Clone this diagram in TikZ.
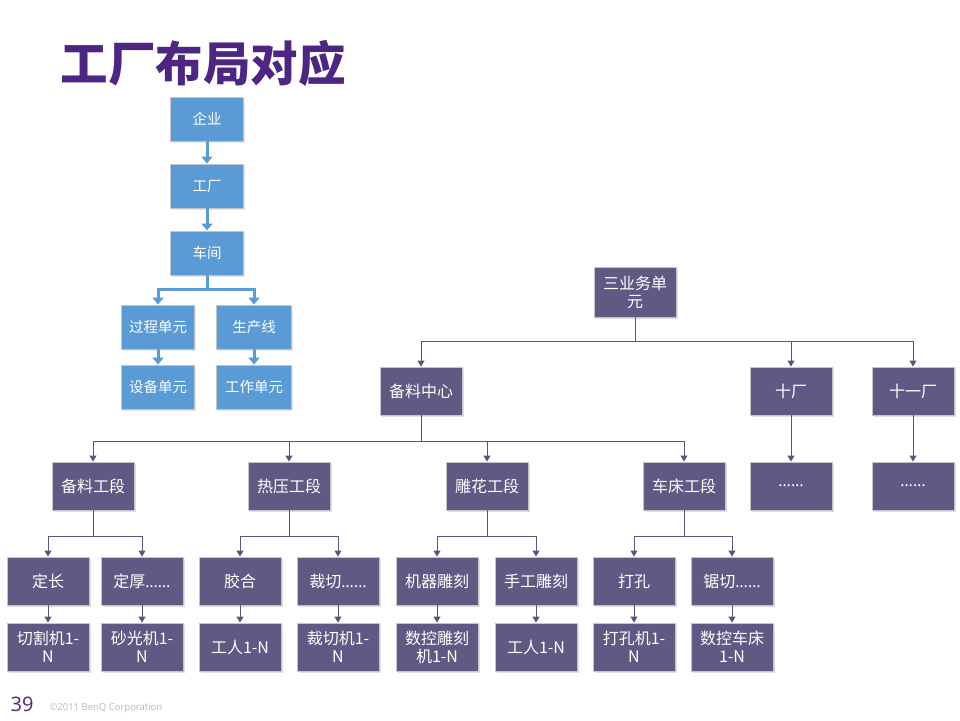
\documentclass[tikz,border=0pt]{standalone}
\usepackage{fontspec}
\setmainfont{Noto Sans CJK SC}
\newfontfamily\latinfont{Open Sans}
\usetikzlibrary{positioning, arrows.meta, shadows}

\definecolor{unitpurple}{RGB}{97,88,132}
\definecolor{linepurple}{RGB}{92,84,128}
\definecolor{unitblue}{RGB}{91,155,213}
\definecolor{titlepurple}{RGB}{76,38,130}
\definecolor{boxrim}{RGB}{196,196,206}

\begin{document}
\begin{tikzpicture}[
    x=1pt, y=-1pt,
    every node/.style={font=\fontsize{16}{18}\selectfont},
    pbox/.style={
        rectangle, fill=unitpurple, draw=boxrim, line width=0.9pt,
        minimum width=82pt, minimum height=48pt, inner sep=1pt,
        align=center, text=white,
        drop shadow={opacity=0.25, shadow xshift=1.5pt, shadow yshift=-1.5pt}
    },
    bbox/.style={
        rectangle, fill=unitblue, draw=boxrim, line width=0.9pt,
        minimum width=73pt, minimum height=44pt, inner sep=1pt,
        align=center, text=white, font=\fontsize{14.5}{17}\selectfont,
        drop shadow={opacity=0.2, shadow xshift=1.5pt, shadow yshift=-1.5pt}
    },
    parrow/.style={draw=linepurple, line width=1pt,
        -{Triangle[width=7pt,length=6pt]}},
    barrow/.style={draw=unitblue, line width=3pt,
        -{Triangle[width=11pt,length=7pt]}}
]
\useasboundingbox (0,0) rectangle (960,720);

%% ── Title ──────────────────────────────────────────────────────────
\node[text=titlepurple, font=\fontsize{47.5}{50}\selectfont\bfseries]
    (title) at (203,63) {工厂布局对应};

%% ── Blue tree (left) ───────────────────────────────────────────────
\node[bbox] (corp)  at (207,119) {企业};
\node[bbox] (plant) at (207,186) {工厂};
\node[bbox] (shop)  at (207,253) {车间};
\node[bbox] (proc)  at (158,327) {过程单元};
\node[bbox, minimum width=75pt] (line) at (254,327) {生产线};
\node[bbox] (equip) at (158,387) {设备单元};
\node[bbox, minimum width=75pt] (work) at (254,387) {工作单元};

\draw[barrow] (corp) -- (plant);
\draw[barrow] (plant) -- (shop);
\draw[barrow] (shop.south) -- ++(0,14) -| (proc.north);
\draw[barrow] (shop.south) -- ++(0,14) -| (line.north);
\draw[barrow] (proc) -- (equip);
\draw[barrow] (line) -- (work);

%% ── Purple tree (right) ────────────────────────────────────────────
\def\rowA{391}
\def\rowB{486}
\def\rowC{581}
\def\rowD{647}

\node[pbox, minimum height=50pt] (bu) at (635,292) {三业务单\\元};

\node[pbox] (prep) at (421,\rowA) {备料中心};
\node[pbox] (f10)  at (791,\rowA) {十厂};
\node[pbox] (f11)  at (913,\rowA) {十一厂};

\node[pbox] (e10) at (791,\rowB) {\latinfont ……};
\node[pbox] (e11) at (913,\rowB) {\latinfont ……};

\node[pbox] (prepsec)  at (93,\rowB)  {备料工段};
\node[pbox] (presssec) at (289,\rowB) {热压工段};
\node[pbox] (carvesec) at (487,\rowB) {雕花工段};
\node[pbox] (lathesec) at (684,\rowB) {车床工段};

%% third row
\node[pbox] (fixlen)  at (48,\rowC)  {定长};
\node[pbox] (fixthk)  at (142,\rowC) {定厚{\latinfont ……}};
\node[pbox] (glue)    at (240,\rowC) {胶合};
\node[pbox] (trim)    at (338,\rowC) {裁切{\latinfont ……}};
\node[pbox] (mcarve)  at (437,\rowC) {机器雕刻};
\node[pbox] (hcarve)  at (536,\rowC) {手工雕刻};
\node[pbox] (drill)   at (634,\rowC) {打孔};
\node[pbox] (saw)     at (732,\rowC) {锯切{\latinfont ……}};

%% fourth row
\node[pbox] (cutter)  at (48,\rowD)  {切割机1-\\N};
\node[pbox] (sander)  at (142,\rowD) {砂光机1-\\N};
\node[pbox] (gluer)   at (240,\rowD) {工人1-N};
\node[pbox] (trimmer) at (338,\rowD) {裁切机1-\\N};
\node[pbox] (cnccarv) at (437,\rowD) {数控雕刻\\机1-N};
\node[pbox] (carver)  at (536,\rowD) {工人1-N};
\node[pbox] (driller) at (634,\rowD) {打孔机1-\\N};
\node[pbox] (cnclath) at (732,\rowD) {数控车床\\1-N};

%% connectors
\foreach \c in {prep, f10, f11}
    \draw[parrow] (bu.south) -- ++(0,24) -| (\c.north);
\draw[parrow] (f10) -- (e10);
\draw[parrow] (f11) -- (e11);
\foreach \c in {prepsec, presssec, carvesec, lathesec}
    \draw[parrow] (prep.south) -- ++(0,26) -| (\c.north);
\foreach \p/\a/\b in {prepsec/fixlen/fixthk, presssec/glue/trim,
                      carvesec/mcarve/hcarve, lathesec/drill/saw} {
    \draw[parrow] (\p.south) -- ++(0,26) -| (\a.north);
    \draw[parrow] (\p.south) -- ++(0,26) -| (\b.north);
}
\foreach \a/\b in {fixlen/cutter, fixthk/sander, glue/gluer, trim/trimmer,
                   mcarve/cnccarv, hcarve/carver, drill/driller, saw/cnclath}
    \draw[parrow] (\a) -- (\b);

%% ── Footer ─────────────────────────────────────────────────────────
\node[text=titlepurple, font=\latinfont\fontsize{20}{22}\selectfont]
    (page) at (22,704) {39};
\node[anchor=west, text=gray!55, font=\latinfont\fontsize{9.5}{11}\selectfont]
    (copy) at (46,708) {©2011 BenQ Corporation};

\end{tikzpicture}
\end{document}
